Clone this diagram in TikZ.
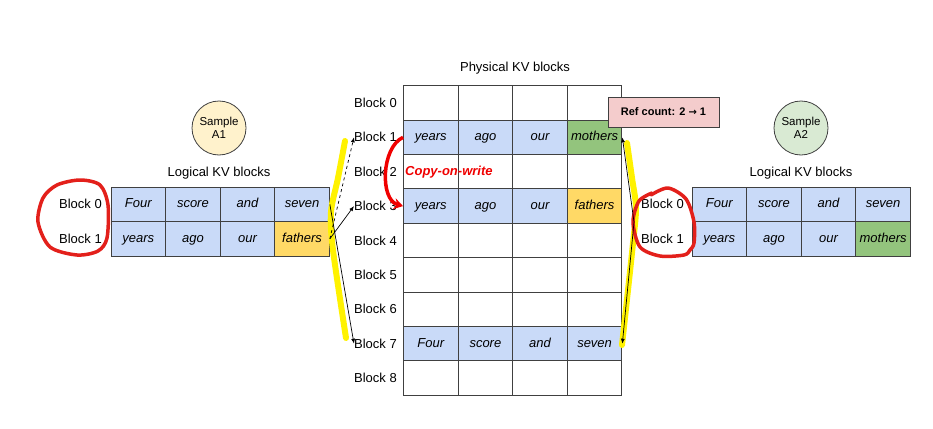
\documentclass[tikz,border=0pt]{standalone}
\usepackage{fontspec}
\setmainfont{Liberation Sans}
\newfontfamily\arrowfont{DejaVu Sans}
\usetikzlibrary{arrows.meta}
\definecolor{kvblue}{HTML}{C9DAF8}
\definecolor{kvgold}{HTML}{FFD966}
\definecolor{kvgreen}{HTML}{93C47D}
\definecolor{refpink}{HTML}{F4CCCC}
\definecolor{sampleA}{HTML}{FFF2CC}
\definecolor{sampleB}{HTML}{D9EAD3}
\definecolor{marker}{HTML}{FFF200}
\definecolor{pen}{HTML}{E3201B}
\definecolor{cowred}{HTML}{F00000}
\tikzset{
  cell/.style={draw=black!75, line width=0.9pt, minimum width=54.6pt, minimum height=34.4pt, inner sep=0pt,
    text height=9.5pt, text depth=2.5pt, font=\fontsize{13}{15}\selectfont\itshape},
  blk/.style={inner sep=0pt, font=\fontsize{13}{15}\selectfont},
  title/.style={inner sep=0pt, font=\fontsize{13}{15}\selectfont},
  sample/.style={circle, draw=black!75, line width=0.8pt, minimum size=54pt, inner sep=0pt, align=center, font=\fontsize{11.5}{13}\selectfont},
  ptr/.style={line width=0.7pt, -{Latex[length=5pt,width=4pt]}},
  highlight/.style={marker, line width=6pt, line cap=round, line join=round},
  pencircle/.style={pen, line width=3.5pt, line cap=round, line join=round},
}
% one row of four cells: name, left edge, centre y, word/fill list
\newcommand{\kvrow}[4]{%
  \foreach \w/\f [count=\c] in {#4}
    \node[cell, fill=\f] (#1-\c) at ({#2+54.6*(\c-0.5)}, #3) {\w};
}
\begin{document}
\begin{tikzpicture}[x=1pt, y=-1pt]
\useasboundingbox (0,0) rectangle (933,428);
% physical blocks
\node[title] (ptitle) at (515,68) {Physical KV blocks};
\foreach \r in {0,...,8}
  \node[blk, anchor=east] (pb\r) at (397, {102.9+34.4*\r}) {Block \r};
\kvrow{p0}{403.5}{102.9}{/white,/white,/white,/white}
\kvrow{p1}{403.5}{137.3}{years/kvblue,ago/kvblue,our/kvblue,mothers/kvgreen}
\kvrow{p2}{403.5}{171.7}{/white,/white,/white,/white}
\kvrow{p3}{403.5}{206.1}{years/kvblue,ago/kvblue,our/kvblue,fathers/kvgold}
\kvrow{p4}{403.5}{240.5}{/white,/white,/white,/white}
\kvrow{p5}{403.5}{274.9}{/white,/white,/white,/white}
\kvrow{p6}{403.5}{309.3}{/white,/white,/white,/white}
\kvrow{p7}{403.5}{343.7}{Four/kvblue,score/kvblue,and/kvblue,seven/kvblue}
\kvrow{p8}{403.5}{378.1}{/white,/white,/white,/white}
\node[draw=black!75, fill=refpink, line width=0.8pt, minimum width=111pt, minimum height=30pt,
  font=\fontsize{11}{12}\selectfont\bfseries] (ref) at (663.5,112) {Ref count: 2 {\arrowfont\fontsize{10}{12}\selectfont →} 1};
\node[anchor=west, inner sep=0pt, text=cowred, font=\fontsize{13}{15}\selectfont\bfseries\itshape] (cow) at (405,172) {Copy-on-write};

% sample A1
\node[sample, fill=sampleA] (sa1) at (219,128) {Sample\\A1};
\node[title] (atitle) at (219,173) {Logical KV blocks};
\node[blk, anchor=east] (ab0) at (102,204.3) {Block 0};
\node[blk, anchor=east] (ab1) at (102,238.8) {Block 1};
\kvrow{a0}{111}{204.3}{Four/kvblue,score/kvblue,and/kvblue,seven/kvblue}
\kvrow{a1}{111}{238.8}{years/kvblue,ago/kvblue,our/kvblue,fathers/kvgold}

% sample A2
\node[sample, fill=sampleB] (sa2) at (801,128) {Sample\\A2};
\node[title] (btitle) at (801,173) {Logical KV blocks};
\node[blk, anchor=east] (bb0) at (684,204.3) {Block 0};
\node[blk, anchor=east] (bb1) at (684,238.8) {Block 1};
\kvrow{b0}{692}{204.3}{Four/kvblue,score/kvblue,and/kvblue,seven/kvblue}
\kvrow{b1}{692}{238.8}{years/kvblue,ago/kvblue,our/kvblue,mothers/kvgreen}

% marker strokes
\draw[highlight] plot[smooth] coordinates {(345,141) (338,178) (331,212) (333,250) (346,338)};
\draw[highlight] plot[smooth] coordinates {(627,143) (632,178) (636,208) (633,243) (628,290) (622,345)};
\draw[pencircle] plot[smooth cycle] coordinates {(80,180) (100,185) (108,205) (107,238) (98,251) (77,255) (50,247) (38,222) (43,198) (57,185)};
\draw[pencircle] plot[smooth] coordinates {(651,195) (668,188) (686,199) (694,222) (694,243) (690,250) (684,255) (660,256) (640,247) (633,222) (639,201) (652,193)};

% block table pointers
\draw[ptr, dashed] (a1-4.east) -- (pb1.west);
\draw[ptr] (a1-4.east) -- (pb3.west);
\draw[ptr] (a0-4.east) -- (pb7.west);
\coordinate (bsrc) at (634,222);
\draw[ptr] (bsrc) -- (p1-4.east);
\draw[ptr] (bsrc) -- (p7-4.east);
\draw[cowred, line width=3.5pt, -{Stealth[length=9pt,width=11pt]}] (p1-1.west) to[out=205, in=165, looseness=0.9] (p3-1.west);
\end{tikzpicture}
\end{document}
